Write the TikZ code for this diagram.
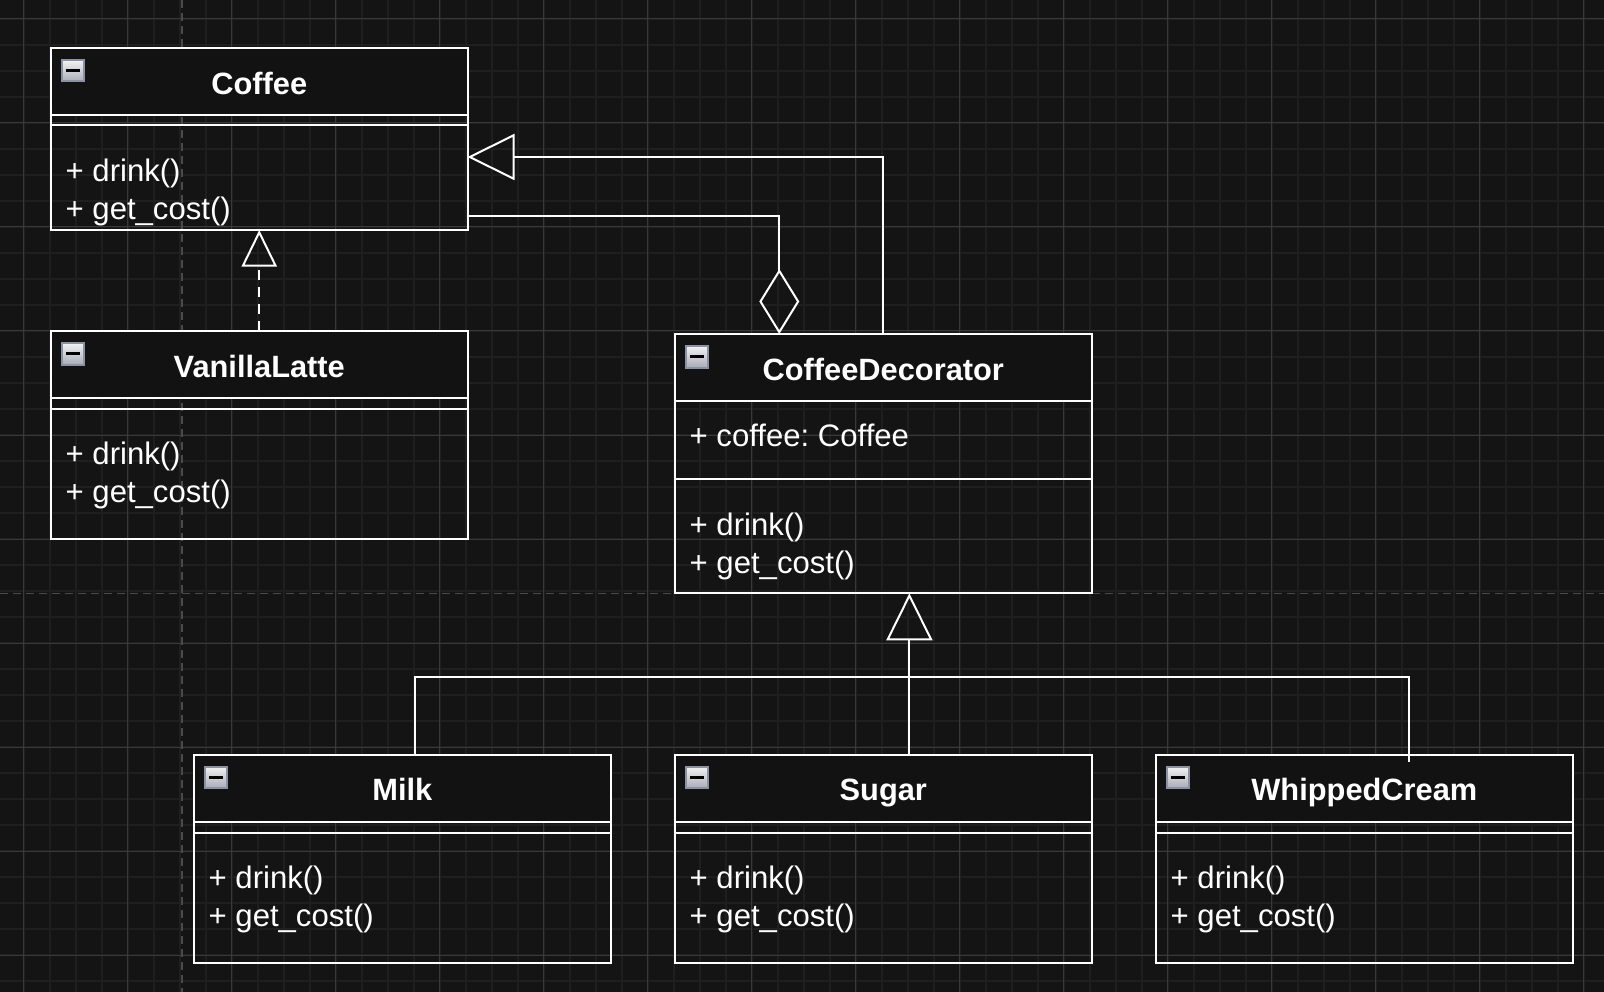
\documentclass[tikz,border=0pt]{standalone}
\usepackage{fontspec}
\setmainfont{Liberation Sans}
\usetikzlibrary{arrows.meta}
\definecolor{bgc}{HTML}{141414}
\definecolor{hdrc}{HTML}{121212}
\definecolor{minorc}{HTML}{1F1F1F}
\definecolor{majorc}{HTML}{393939}
\definecolor{pagec}{HTML}{4A4A4A}
\definecolor{iconborder}{HTML}{8C92A2}
\definecolor{icontop}{HTML}{F2F2F2}
\definecolor{iconbot}{HTML}{A9ADB8}
\tikzset{
  classbox/.style={draw=white, line width=2pt, outer sep=0pt, inner sep=0pt, fill=none},
  sepline/.style={draw=white, line width=2pt},
  conn/.style={draw=white, line width=2pt},
  ttl/.style={font=\bfseries\fontsize{30.8}{37}\selectfont, text=white, anchor=base, inner sep=0pt},
  mem/.style={font=\fontsize{31.1}{38}\selectfont, text=white, anchor=base west, inner sep=0pt},
  minorgrid/.style={draw=minorc, line width=2pt},
  majorgrid/.style={draw=majorc, line width=1pt},
  pagebreak/.style={draw=pagec, line width=1.5pt, dash pattern=on 8pt off 5pt},
  bigtri/.style={-{Triangle[open, length=47pt, width=46pt]}},
  smalltri/.style={-{Triangle[open, length=36.7pt, width=35.3pt]}},
  iconbox/.style={top color=icontop, bottom color=iconbot, draw=iconborder, line width=2pt},
}
% name, L, T, W, H, header sep offset, second sep offset, title
\newcommand\umlbox[8]{%
  \fill[hdrc] (#2,#3) rectangle ++(#4,#6);
  \node[classbox, anchor=north west, minimum width=#4pt, minimum height=#5pt] (#1) at (#2,#3) {};
  \draw[sepline] ([shift={(0,#6)}]#1.north west) -- ([shift={(0,#6)}]#1.north east);
  \draw[sepline] ([shift={(0,#7)}]#1.north west) -- ([shift={(0,#7)}]#1.north east);
  \shade[iconbox] ([shift={(11,12)}]#1.north west) rectangle ++(21.5,21.5);
  \fill[black] ([shift={(15,21.3)}]#1.north west) rectangle ++(14,3);
  \node[ttl] (#1-title) at ([shift={(0,46.3)}]#1.north) {#8};
}
\frenchspacing
\begin{document}
\frenchspacing
\begin{tikzpicture}[x=1pt, y=-1pt]
\useasboundingbox (0,0) rectangle (1604,992);
\fill[bgc] (0,0) rectangle (1604,992);
% grid
\foreach \i in {0,...,61} \draw[minorgrid] ({23.7+26*\i},0) -- ({23.7+26*\i},992);
\foreach \j in {0,...,38} \draw[minorgrid] (0,{19+26*\j}) -- (1604,{19+26*\j});
\foreach \i in {0,...,15} \draw[majorgrid] ({23.7+104*\i},0) -- ({23.7+104*\i},992);
\foreach \j in {0,...,9} \draw[majorgrid] (0,{19+104*\j}) -- (1604,{19+104*\j});
% page break lines
\draw[pagebreak] (182,0) -- (182,992);
\draw[pagebreak] (0,593.5) -- (1604,593.5);

% classes
\umlbox{coffee}{51}{48}{416.5}{182}{66.6}{76.8}{Coffee}
\node[mem] (coffee-m1) at ([shift={(14.5,133.5)}]coffee.north west) {+ drink()};
\node[mem] (coffee-m2) at ([shift={(14.5,171.5)}]coffee.north west) {+ get\_cost()};

\umlbox{latte}{51}{331}{416.5}{208.3}{67.3}{78}{VanillaLatte}
\node[mem] (latte-m1) at ([shift={(14.5,133.5)}]latte.north west) {+ drink()};
\node[mem] (latte-m2) at ([shift={(14.5,171.5)}]latte.north west) {+ get\_cost()};

\umlbox{deco}{675}{334}{416.6}{259.3}{67}{145.3}{CoffeeDecorator}
\node[mem] (deco-a1) at ([shift={(14.5,112.7)}]deco.north west) {+ coffee: Coffee};
\node[mem] (deco-m1) at ([shift={(14.5,201)}]deco.north west) {+ drink()};
\node[mem] (deco-m2) at ([shift={(14.5,239)}]deco.north west) {+ get\_cost()};

\umlbox{milk}{194}{754.5}{416.6}{208.5}{67.8}{78.5}{Milk}
\node[mem] (milk-m1) at ([shift={(14.5,133.5)}]milk.north west) {+ drink()};
\node[mem] (milk-m2) at ([shift={(14.5,171.5)}]milk.north west) {+ get\_cost()};

\umlbox{sugar}{675}{754.5}{416.6}{208.5}{67.8}{78.5}{Sugar}
\node[mem] (sugar-m1) at ([shift={(14.5,133.5)}]sugar.north west) {+ drink()};
\node[mem] (sugar-m2) at ([shift={(14.5,171.5)}]sugar.north west) {+ get\_cost()};

\umlbox{whip}{1156}{754.5}{416.7}{208.5}{67.8}{78.5}{WhippedCream}
\node[mem] (whip-m1) at ([shift={(14.5,133.5)}]whip.north west) {+ drink()};
\node[mem] (whip-m2) at ([shift={(14.5,171.5)}]whip.north west) {+ get\_cost()};

% connectors
\draw[conn, smalltri, dash pattern=on 10pt off 7pt] (latte.north) -- (coffee.south);
\draw[conn, bigtri] (deco.north) |- (coffee.east |- 0,157);
\draw[conn, {Diamond[open, length=65pt, width=40pt]}-] (779.3,0 |- deco.north) |- (coffee.east |- 0,216);
\draw[conn, bigtri] (909.4,0 |- sugar.north) -- (909.4,0 |- deco.south);
\draw[conn] (415.3,0 |- milk.north) |- (1408.6,676.7) -- (1408.6,0 |- whip.north) -- ++(0,7.7);
\end{tikzpicture}
\end{document}
